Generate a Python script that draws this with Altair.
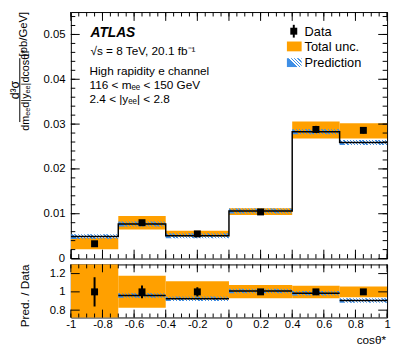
import altair as alt
import pandas as pd

# ---------------- data ----------------
edges = [-1.0, -0.7, -0.4, 0.0, 0.4, 0.7, 1.0]
centers = [-0.85, -0.55, -0.2, 0.2, 0.55, 0.85]
data_xsec = [0.0033, 0.0080, 0.0055, 0.0104, 0.0288, 0.0286]
data_err = [0.0004, 0.0004, 0.0003, 0.0003, 0.0008, 0.0007]
pred_xsec = [0.0049, 0.0077, 0.0051, 0.0106, 0.0283, 0.0259]
unc_lo = [0.0021, 0.0065, 0.0049, 0.0097, 0.0268, 0.0268]
unc_hi = [0.0046, 0.0095, 0.0062, 0.0112, 0.0306, 0.0302]

ratio_data = [1.0, 1.0, 1.0, 1.0, 1.0, 1.0]
ratio_err = [0.16, 0.07, 0.05, 0.03, 0.02, 0.02]
ratio_pred = [1.48, 0.96, 0.925, 1.01, 0.985, 0.905]
ratio_lo = [0.64, 0.827, 0.92, 0.93, 0.93, 0.94]
ratio_hi = [1.39, 1.176, 1.115, 1.076, 1.068, 1.06]

x_major = [-1, -0.8, -0.6, -0.4, -0.2, 0, 0.2, 0.4, 0.6, 0.8, 1]
x_minor = [round(-1 + 0.05 * i, 2) for i in range(41)]
y1_major = [0, 0.01, 0.02, 0.03, 0.04, 0.05]
y1_minor = [round(0.002 * i, 3) for i in range(28)]
y2_major = [0.8, 1.0, 1.2]

# ---------------- style ----------------
FONT = "Liberation Sans"
W, H1, H2 = 322, 251, 54
GAP = 6
Y1D = [0, 0.055]
Y2D = [0.72, 1.30]
ORANGE = "#FFA000"
BLUE = "#3F8FE6"
CLEAR = "rgba(255,255,255,0)"
HATCH_PX1, HATCH_PX2 = 5.0, 4.5

xs = alt.Scale(domain=[-1, 1], nice=False, zero=False)
y1s = alt.Scale(domain=Y1D, nice=False, zero=False)
y2s = alt.Scale(domain=Y2D, nice=False, zero=False)

y1axis = alt.Axis(values=y1_major[1:], title=None, labelFlush=False, labelOverlap=False,
                  labelExpr="format(datum.value, '.2f')")
xaxis = alt.Axis(values=x_major, title=None, labelExpr="'' + datum.value",
                 labelFlush=False, labelOverlap=False, labelPadding=1, labelBaseline="top")
y2axis = alt.Axis(values=y2_major, title=None, labelFlush=False, labelOverlap=False,
                  labelExpr="datum.value == 1 ? '1' : format(datum.value, '.1f')")

bins = pd.DataFrame({
    "lo": edges[:-1], "hi": edges[1:], "c": centers,
    "d": data_xsec,
    "dlo": [v - e for v, e in zip(data_xsec, data_err)],
    "dhi": [v + e for v, e in zip(data_xsec, data_err)],
    "p": pred_xsec, "blo": unc_lo, "bhi": unc_hi,
    "rd": ratio_data,
    "rdlo": [v - e for v, e in zip(ratio_data, ratio_err)],
    "rdhi": [v + e for v, e in zip(ratio_data, ratio_err)],
    "rp": ratio_pred, "rlo": ratio_lo, "rhi": ratio_hi,
})
bins["w"] = (bins["hi"] - bins["lo"]).round(2)
step = pd.DataFrame({"x": edges, "p": pred_xsec + [pred_xsec[-1]]})


def X1(f):
    return alt.X(f, scale=xs, axis=None)


def Y1(f):
    return alt.Y(f, scale=y1s, axis=y1axis)


def X2(f):
    return alt.X(f, scale=xs, axis=xaxis)


def Y2(f):
    return alt.Y(f, scale=y2s, axis=y2axis)


def hatch_grad(w_px, h_px, period=3.2, frac=0.42):
    r = h_px / w_px
    n = max(1, round(w_px * (1 + r * r) / period))
    stops = []
    for k in range(n):
        a, b, c = k / n, (k + frac) / n, (k + 1) / n
        stops += [alt.GradientStop(offset=a, color=BLUE), alt.GradientStop(offset=b, color=BLUE),
                  alt.GradientStop(offset=b, color=CLEAR), alt.GradientStop(offset=c, color=CLEAR)]
    return alt.LinearGradient(gradient="linear", stops=stops, x1=0, y1=0, x2=1, y2=-r)


def hatch_layers(field, X, Y, dom, hpx, hplot):
    half = hpx / 2 * (dom[1] - dom[0]) / hplot
    out = []
    for wb in sorted(bins["w"].unique()):
        wpx = wb / 2 * W
        out.append(
            alt.Chart(bins).transform_filter(f"abs(datum.w - {wb}) < 0.001").transform_calculate(
                hl=f"datum.{field} - {half}", hh=f"datum.{field} + {half}"
            ).mark_rect(fill=hatch_grad(wpx, hpx), strokeWidth=0, clip=True).encode(
                x=X("lo:Q"), x2="hi", y=Y("hl:Q"), y2="hh")
        )
    return out


def txt(s, x, y, size, angle=0, align="left", weight="normal", style="normal", color="black"):
    return alt.Chart(pd.DataFrame({"t": [s]})).mark_text(
        align=align, baseline="middle", fontSize=size, font=FONT, angle=angle,
        fontWeight=weight, fontStyle=style, color=color
    ).encode(x=alt.value(x), y=alt.value(y), text="t:N")


def ticks(vals, chan, enc_fn, h, major_len, w=W):
    df = pd.DataFrame({"v": vals})
    base = alt.Chart(df).mark_rule(color="black", strokeWidth=1)
    enc = enc_fn("v:Q")
    if chan == "x":
        return [base.encode(x=enc, y=alt.value(h), y2=alt.value(h - major_len)),
                base.encode(x=enc, y=alt.value(0), y2=alt.value(major_len))]
    return [base.encode(y=enc, x=alt.value(0), x2=alt.value(major_len)),
            base.encode(y=enc, x=alt.value(w), x2=alt.value(w - major_len))]


# ---------------- main panel ----------------
band1 = alt.Chart(bins).mark_rect(color=ORANGE, clip=True).encode(
    x=X1("lo:Q"), x2="hi", y=Y1("blo:Q"), y2="bhi")
line1 = alt.Chart(step).mark_line(color="black", strokeWidth=1.5, interpolate="step-after", clip=True).encode(
    x=X1("x:Q"), y=Y1("p:Q"), order="x:Q")
err1 = alt.Chart(bins).mark_rule(color="black", strokeWidth=2).encode(
    x=X1("c:Q"), y=Y1("dlo:Q"), y2="dhi")
pts1 = alt.Chart(bins).mark_square(color="black", size=50, opacity=1).encode(
    x=X1("c:Q"), y=Y1("d:Q"))

main_layers = [band1] + hatch_layers("p", X1, Y1, Y1D, HATCH_PX1, H1) + [line1, err1, pts1]
main_layers += ticks(x_major, "x", X1, H1, 9) + ticks(x_minor, "x", X1, H1, 4.5)
main_layers += ticks(y1_major, "y", Y1, H1, 9) + ticks(y1_minor, "y", Y1, H1, 4.5)

# annotations
main_layers += [
    txt("ATLAS", 20, 21, 14, weight="bold", style="italic"),
    txt("√s = 8 TeV, 20.1 fb⁻¹", 20, 40, 12),
    txt("High rapidity e channel", 19, 60, 12),
    txt("116 < mₑₑ < 150 GeV", 19, 74, 12),
    txt("2.4 < |yₑₑ| < 2.8", 19, 89, 12),
]
# legend
leg = pd.DataFrame({"a": [0]})
main_layers += [
    alt.Chart(leg).mark_rule(color="black", strokeWidth=2).encode(
        x=alt.value(227), y=alt.value(13), y2=alt.value(26)),
    alt.Chart(leg).mark_square(color="black", size=50, opacity=1).encode(
        x=alt.value(227), y=alt.value(19.5)),
    txt("Data", 238, 20, 13),
    alt.Chart(leg).mark_rect(color=ORANGE).encode(
        x=alt.value(220), x2=alt.value(235), y=alt.value(30), y2=alt.value(40)),
    txt("Total unc.", 238, 36, 13),
    alt.Chart(leg).mark_rect(fill=hatch_grad(15, 9), strokeWidth=0).encode(
        x=alt.value(220), x2=alt.value(235), y=alt.value(47), y2=alt.value(56)),
    txt("Prediction", 238, 52, 13),
]
# y title
main_layers += [
    txt("d³σ", -57, 79.5, 12.5, angle=270, align="center"),
    alt.Chart(leg).mark_rule(color="black", strokeWidth=1).encode(
        x=alt.value(-52), y=alt.value(47), y2=alt.value(112)),
    txt("dmₑₑd|yₑₑ|dcosθ*", -45.5, 79.5, 11, angle=270, align="center"),
    txt("[pb/GeV]", -48, 22.5, 11.5, angle=270, align="center"),
]

main = alt.layer(*main_layers).properties(width=W, height=H1)

# ---------------- ratio panel ----------------
band2 = alt.Chart(bins).mark_rect(color=ORANGE, clip=True).encode(
    x=X2("lo:Q"), x2="hi", y=Y2("rlo:Q"), y2="rhi")
line2 = alt.Chart(bins).mark_rule(color="black", strokeWidth=1.5, clip=True).encode(
    x=X2("lo:Q"), x2="hi", y=Y2("rp:Q"))
err2 = alt.Chart(bins).mark_rule(color="black", strokeWidth=2, clip=True).encode(
    x=X2("c:Q"), y=Y2("rdlo:Q"), y2="rdhi")
pts2 = alt.Chart(bins).mark_square(color="black", size=50, opacity=1).encode(
    x=X2("c:Q"), y=Y2("rd:Q"))

ratio_layers = [band2] + hatch_layers("rp", X2, Y2, Y2D, HATCH_PX2, H2) + [line2, err2, pts2]
ratio_layers += ticks(x_major, "x", X2, H2, 8) + ticks(x_minor, "x", X2, H2, 4)
ratio_layers += ticks(y2_major, "y", Y2, H2, 9)
ratio_layers += [
    txt("Pred. / Data", -47, 32, 12, angle=270, align="center"),
    txt("cosθ*", 321, 77, 12, align="right"),
    # the "0" of the cross-section axis sits at the bottom of the upper panel
    txt("0", -6, -GAP + 1, 11.5, align="right"),
]
ratio = alt.layer(*ratio_layers).properties(width=W, height=H2)

chart = alt.vconcat(main, ratio, spacing=GAP, bounds="flush").properties(
    padding=0
).configure_view(stroke="black", strokeWidth=1).configure_axis(
    labelFont=FONT, labelFontSize=11.5, labelColor="black", grid=False,
    domain=False, ticks=False, tickSize=0, labelPadding=6
)

chart.save("out.html", embed_options={"renderer": "svg", "actions": False})
